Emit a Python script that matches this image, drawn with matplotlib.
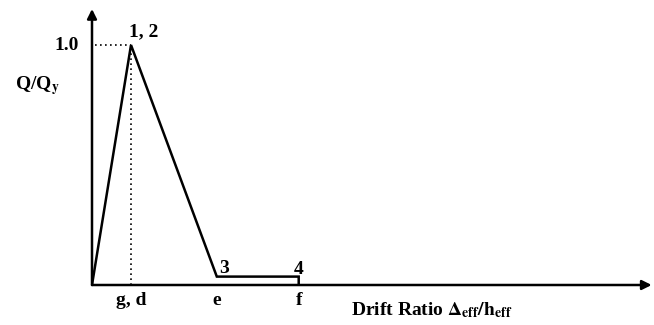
import numpy as np
import matplotlib.pyplot as plt

# backbone curve points (drift ratio, Q/Qy)
drift = [0.0, 1.0, 3.2, 5.3, 5.3]
force = [0.0, 1.0, 0.035, 0.035, 0.0]
point_labels = ['1, 2', '3', '4']
tick_pos = [1.0, 3.2, 5.3]
tick_labels = ['g, d', 'e', 'f']

plt.rcParams['font.family'] = ['Liberation Serif', 'DejaVu Serif']
plt.rcParams['mathtext.fontset'] = 'stix'

fig = plt.figure(figsize=(6.54, 3.25), dpi=100)
ax = fig.add_axes([92 / 654, 40 / 325, 562 / 654, 280 / 325])
ax.set_xlim(0, 562 / 39)
ax.set_ylim(0, 280 / 240)
ax.axis('off')

# axes with arrows
ax.annotate('', xy=(14.35, 0), xytext=(0, 0),
            arrowprops=dict(arrowstyle='-|>', color='black', lw=1.8,
                            mutation_scale=14, shrinkA=0, shrinkB=0))
ax.annotate('', xy=(0, 1.15), xytext=(0, 0),
            arrowprops=dict(arrowstyle='-|>', color='black', lw=1.8,
                            mutation_scale=14, shrinkA=0, shrinkB=0))

ax.plot(drift, force, color='black', lw=1.8, solid_joinstyle='miter')

# dotted guides to the peak
ax.plot([0.08, drift[1]], [force[1], force[1]], color='black', lw=1.2, ls=(0, (1, 2)))
ax.plot([drift[1], drift[1]], [0, force[1]], color='black', lw=1.2, ls=(0, (1, 2)))

tf = dict(fontsize=14, fontweight='bold', color='black')
ax.text(drift[1] - 0.05, force[1] + 0.02, point_labels[0], ha='left', va='bottom', **tf)
ax.text(drift[2] + 0.05, force[2] + 0.0, point_labels[1], ha='left', va='bottom', **tf)
ax.text(drift[3], force[3] - 0.005, point_labels[2], ha='center', va='bottom', **tf)

for p, lab in zip(tick_pos, tick_labels):
    ax.text(p, -0.03, lab, ha='center', va='top', **tf)

ax.text(-0.35, 1.0, '1.0', ha='right', va='center', **tf)
ax.text(-1.4, 0.83, r'Q/Q$_\mathbf{y}$', ha='center', va='center', **tf)
ax.text(6.65, -0.065, r'Drift Ratio $\mathbf{\Delta_{eff}/h_{eff}}$', ha='left', va='top', **tf)

fig.savefig('out.png', dpi=100)
